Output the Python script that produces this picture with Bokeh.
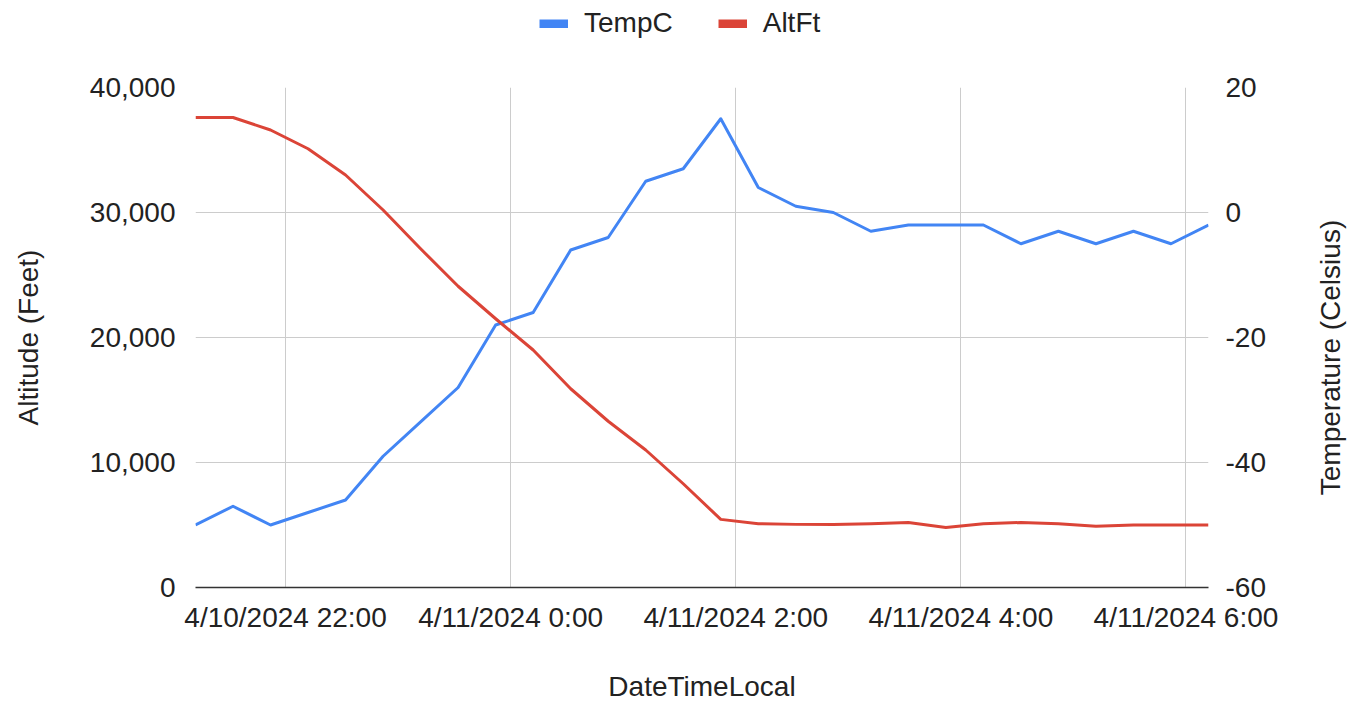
import math
import pandas as pd
from bokeh.plotting import figure
from bokeh.layouts import column, row
from bokeh.models import (Range1d, LinearAxis, FixedTicker, NumeralTickFormatter,
                          Legend, LegendItem, ColumnDataSource, Label)
from bokeh.embed import file_html
from bokeh.resources import INLINE

# ---------------- data ----------------
times = ["2024-04-10 21:12", "2024-04-10 21:32", "2024-04-10 21:52", "2024-04-10 22:12",
         "2024-04-10 22:32", "2024-04-10 22:52", "2024-04-10 23:12", "2024-04-10 23:32",
         "2024-04-10 23:52", "2024-04-11 00:12", "2024-04-11 00:32", "2024-04-11 00:52",
         "2024-04-11 01:12", "2024-04-11 01:32", "2024-04-11 01:52", "2024-04-11 02:12",
         "2024-04-11 02:32", "2024-04-11 02:52", "2024-04-11 03:12", "2024-04-11 03:32",
         "2024-04-11 03:52", "2024-04-11 04:12", "2024-04-11 04:32", "2024-04-11 04:52",
         "2024-04-11 05:12", "2024-04-11 05:32", "2024-04-11 05:52", "2024-04-11 06:12"]
temp_c = [-50, -47, -50, -48, -46, -39, -33.5, -28, -18, -16, -6, -4, 5, 7, 15, 4,
          1, 0, -3, -2, -2, -2, -5, -3, -5, -3, -5, -2]
alt_ft = [37600, 37600, 36600, 35100, 33000, 30200, 27100, 24100, 21500, 19000, 15900,
          13300, 11000, 8300, 5450, 5100, 5050, 5050, 5100, 5200, 4800, 5100, 5200, 5100,
          4900, 5000, 5000, 5000]
tick_times = ["2024-04-10 22:00", "2024-04-11 00:00", "2024-04-11 02:00",
              "2024-04-11 04:00", "2024-04-11 06:00"]
tick_labels = ["4/10/2024 22:00", "4/11/2024 0:00", "4/11/2024 2:00",
               "4/11/2024 4:00", "4/11/2024 6:00"]
alt_ticks = [0, 10000, 20000, 30000, 40000]
temp_ticks = [-60, -40, -20, 0, 20]
temp_tick_labels = ["-60", "-40", "-20", "0", "20"]
series_names = ["TempC", "AltFt"]

BLUE = "#4285F4"
RED = "#DB4437"
FONT = "Liberation Sans"
TXT = "#222222"
FS = "28px"


def ms(s):
    return int(pd.Timestamp(s).value // 10**6)


dt = pd.to_datetime(times)
src = ColumnDataSource(dict(t=dt, temp=temp_c, alt=alt_ft))
tick_ms = [ms(s) for s in tick_times]

# ---------------- main chart ----------------
fig = figure(width=1278, height=660, x_axis_type="datetime",
             x_range=Range1d(ms(times[0]), ms(times[-1])),
             y_range=Range1d(0, 40000),
             output_backend="svg", toolbar_location=None,
             min_border_left=195, min_border_right=70,
             min_border_top=41, min_border_bottom=119)
fig.extra_y_ranges = {"temp": Range1d(-60, 20)}
fig.outline_line_color = None

r_t = fig.line(x="t", y="temp", source=src, y_range_name="temp",
               line_color=BLUE, line_width=3, line_join="round")
r_a = fig.line(x="t", y="alt", source=src,
               line_color=RED, line_width=3, line_join="round")

xa = fig.xaxis[0]
xa.ticker = FixedTicker(ticks=tick_ms)
xa.major_label_overrides = dict(zip(tick_ms, tick_labels))
xa.axis_label = "DateTimeLocal"
xa.axis_line_color = "#333333"
xa.axis_line_width = 1.5
xa.major_tick_line_color = None
xa.minor_tick_line_color = None
xa.major_label_standoff = 8
xa.axis_label_standoff = 35

ya = fig.yaxis[0]
ya.ticker = FixedTicker(ticks=alt_ticks)
ya.formatter = NumeralTickFormatter(format="0,0")
ya.axis_label = "Altitude (Feet)"
ya.axis_line_color = None
ya.major_tick_line_color = None
ya.minor_tick_line_color = None
ya.major_label_standoff = 14
ya.axis_label_standoff = 43

ra = LinearAxis(y_range_name="temp", ticker=FixedTicker(ticks=temp_ticks))
ra.major_label_overrides = dict(zip(temp_ticks, temp_tick_labels))
ra.axis_line_color = None
ra.major_tick_line_color = None
ra.minor_tick_line_color = None
ra.major_label_standoff = 11
fig.add_layout(ra, "right")

for ax in (xa, ya, ra):
    ax.major_label_text_font = FONT
    ax.major_label_text_font_size = FS
    ax.major_label_text_color = TXT
    ax.axis_label_text_font = FONT
    ax.axis_label_text_font_size = FS
    ax.axis_label_text_color = TXT
    ax.axis_label_text_font_style = "normal"

fig.xgrid.ticker = FixedTicker(ticks=tick_ms)
fig.xgrid.grid_line_color = "#cccccc"
fig.ygrid.grid_line_color = "#cccccc"

# ---------------- legend strip (top) ----------------
top = figure(width=1349, height=46, x_range=Range1d(0, 1), y_range=Range1d(0, 1),
             x_axis_location=None, y_axis_location=None,
             output_backend="svg", toolbar_location=None,
             min_border=0, min_border_left=0, min_border_right=0,
             min_border_top=0, min_border_bottom=0)
top.outline_line_color = None
top.grid.visible = False
# same series, hidden here; only used for the legend swatches
leg_t = top.line(x="t", y="temp", source=src, line_color=BLUE, line_width=9,
                 visible=False)
leg_a = top.line(x="t", y="alt", source=src, line_color=RED, line_width=9,
                 visible=False)
legend = Legend(items=[LegendItem(label=series_names[0], renderers=[leg_t]),
                       LegendItem(label=series_names[1], renderers=[leg_a])],
                orientation="horizontal", location=(539, 7),
                glyph_width=29, glyph_height=9, label_standoff=16, spacing=45,
                padding=0, margin=0, border_line_color=None,
                background_fill_alpha=0, label_height=30,
                inactive_fill_alpha=0,
                label_text_font=FONT, label_text_font_size=FS,
                label_text_color=TXT)
top.add_layout(legend, "center")

# ---------------- right axis title strip ----------------
side = figure(width=71, height=660, x_range=Range1d(0, 1), y_range=Range1d(0, 1),
              x_axis_location=None, y_axis_location=None,
              output_backend="svg", toolbar_location=None,
              min_border=0, min_border_left=0, min_border_right=0,
              min_border_top=0, min_border_bottom=0)
side.outline_line_color = None
side.grid.visible = False
right_title = Label(x=52, y=230, x_units="screen", y_units="screen",
                    text="Temperature (Celsius)", angle=math.pi / 2,
                    text_align="center", text_baseline="middle",
                    text_font=FONT, text_font_size=FS, text_color=TXT)
side.add_layout(right_title)

p = column(top, row(fig, side, spacing=0), spacing=0)

open("out.html", "w").write(file_html(p, INLINE))
